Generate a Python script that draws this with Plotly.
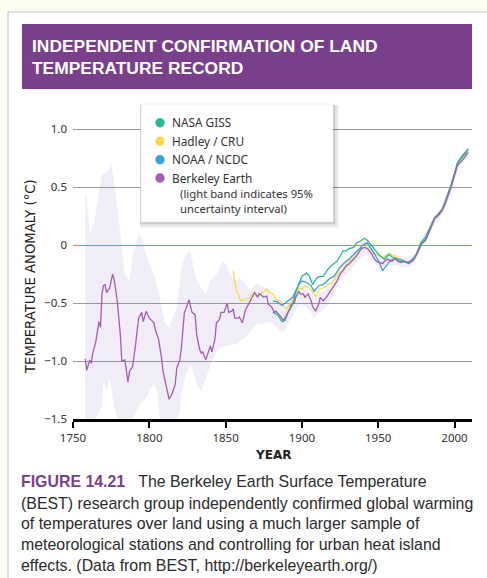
import plotly.graph_objects as go

# ---------------- data ----------------
berkeley_years = [1758, 1759, 1761, 1762, 1763, 1765, 1767, 1768, 1769, 1770, 1771, 1772, 1774, 1776, 1777,
                  1779, 1781, 1782, 1784, 1785, 1786, 1787, 1789, 1791, 1792, 1793, 1795, 1796, 1798, 1800,
                  1803, 1804, 1806, 1808, 1809, 1811, 1813, 1815, 1817, 1818, 1820, 1821, 1823, 1824, 1826,
                  1828, 1830, 1831, 1833, 1834, 1835, 1837, 1839, 1840, 1841, 1843, 1844, 1846, 1847, 1849,
                  1851, 1852, 1854, 1855, 1856, 1858, 1859, 1861, 1863, 1865, 1867, 1869, 1871, 1872, 1875,
                  1877, 1878, 1880, 1882, 1883, 1885, 1887, 1888, 1890, 1892, 1893, 1895, 1896, 1898, 1899,
                  1901, 1902, 1904, 1906, 1907, 1909, 1911, 1912, 1914, 1916, 1918, 1920, 1923, 1925, 1927,
                  1929, 1931, 1934, 1936, 1938, 1939, 1941, 1943, 1946, 1947, 1949, 1951, 1953, 1954, 1956,
                  1959, 1961, 1963, 1965, 1967, 1970, 1972, 1974, 1976, 1978, 1981, 1983, 1985, 1987, 1989,
                  1992, 1994, 1996, 1998, 2000, 2002, 2005, 2007, 2008, 2009]
berkeley = [-0.98, -1.08, -0.99, -1.02, -0.93, -0.83, -0.66, -0.71, -0.42, -0.35, -0.34, -0.41, -0.37, -0.25, -0.30,
            -0.48, -0.77, -1.00, -0.99, -1.07, -1.18, -1.09, -1.05, -0.86, -0.71, -0.63, -0.58, -0.66, -0.57, -0.63,
            -0.67, -0.73, -0.81, -0.97, -1.09, -1.20, -1.33, -1.28, -1.20, -1.06, -0.99, -0.89, -0.58, -0.55, -0.47,
            -0.58, -0.60, -0.77, -0.90, -0.93, -0.92, -0.99, -0.92, -0.87, -0.92, -0.81, -0.67, -0.64, -0.58, -0.58,
            -0.50, -0.58, -0.57, -0.55, -0.63, -0.63, -0.62, -0.67, -0.56, -0.51, -0.47, -0.41, -0.45, -0.42, -0.45,
            -0.44, -0.51, -0.53, -0.58, -0.57, -0.60, -0.63, -0.65, -0.60, -0.55, -0.51, -0.50, -0.45, -0.40, -0.42,
            -0.42, -0.45, -0.42, -0.48, -0.53, -0.57, -0.51, -0.45, -0.48, -0.45, -0.41, -0.38, -0.31, -0.25, -0.22,
            -0.18, -0.16, -0.12, -0.09, -0.05, -0.03, -0.02, -0.03, -0.08, -0.11, -0.14, -0.15, -0.16, -0.14, -0.12,
            -0.14, -0.11, -0.14, -0.15, -0.14, -0.15, -0.13, -0.11, -0.05, 0.01, 0.04, 0.10, 0.17, 0.23, 0.25,
            0.30, 0.36, 0.43, 0.51, 0.60, 0.69, 0.73, 0.77, 0.79, 0.80]

band_years = [1758, 1759, 1761, 1764, 1767, 1769, 1770, 1772, 1774, 1775, 1777, 1779, 1781, 1784, 1787,
              1789, 1791, 1793, 1795, 1798, 1800, 1803, 1805, 1807, 1810, 1813, 1816, 1818, 1820, 1821,
              1824, 1827, 1829, 1831, 1834, 1837, 1840, 1842, 1844, 1846, 1848, 1851, 1853, 1857, 1859,
              1863, 1866, 1870, 1874, 1877, 1881, 1884, 1886, 1888, 1890, 1893, 1896, 1899, 1902, 1905,
              1908, 1911, 1914, 1917, 1920, 1924, 1928, 1932, 1936, 1940, 1943, 1946, 1950, 1954, 1958,
              1962, 1966, 1970, 1974, 1978, 1982, 1986, 1990, 1994, 1998, 2002, 2006, 2009]
band_upper = [0.47, 0.40, 0.10, 0.21, 0.45, 0.62, 0.62, 0.62, 0.65, 0.72, 0.55, 0.30, 0.10, -0.25, -0.31,
              -0.10, 0.01, 0.10, 0.07, -0.08, -0.16, -0.25, -0.34, -0.45, -0.66, -0.71, -0.60, -0.54, -0.30, -0.19,
              -0.08, -0.05, -0.19, -0.30, -0.37, -0.42, -0.31, -0.28, -0.25, -0.20, -0.14, -0.18, -0.25, -0.31, -0.28,
              -0.33, -0.40, -0.33, -0.36, -0.37, -0.45, -0.48, -0.52, -0.55, -0.52, -0.44, -0.38, -0.35, -0.38, -0.40,
              -0.47, -0.42, -0.40, -0.37, -0.31, -0.20, -0.14, -0.09, -0.04, 0.03, 0.02, -0.03, -0.10, -0.09, -0.09,
              -0.08, -0.10, -0.11, -0.07, 0.05, 0.13, 0.24, 0.30, 0.40, 0.55, 0.73, 0.80, 0.84]
band_lower = [-1.50, -1.50, -1.50, -1.50, -1.45, -1.38, -1.18, -1.26, -1.15, -1.20, -1.40, -1.50, -1.50, -1.50, -1.50,
              -1.50, -1.45, -1.40, -1.35, -1.32, -1.25, -1.20, -1.26, -1.50, -1.50, -1.50, -1.50, -1.50, -1.45, -1.29,
              -1.12, -1.03, -1.10, -1.20, -1.26, -1.15, -1.05, -0.97, -0.93, -0.89, -0.88, -0.87, -0.86, -0.85, -0.83,
              -0.80, -0.75, -0.68, -0.68, -0.66, -0.68, -0.72, -0.74, -0.75, -0.70, -0.62, -0.55, -0.50, -0.52, -0.56,
              -0.63, -0.58, -0.56, -0.52, -0.45, -0.33, -0.26, -0.21, -0.15, -0.09, -0.09, -0.14, -0.20, -0.19, -0.18,
              -0.17, -0.19, -0.19, -0.15, -0.03, 0.05, 0.16, 0.22, 0.32, 0.47, 0.65, 0.72, 0.76]

hadley_years = [1855, 1857, 1858, 1860, 1863, 1866, 1869, 1871, 1874, 1877, 1879, 1881, 1883, 1886, 1888,
                1890, 1892, 1894, 1898, 1900, 1902, 1905, 1909, 1911, 1914, 1917, 1920, 1924, 1927, 1930,
                1934, 1937, 1939, 1941, 1943, 1946, 1949, 1953, 1957, 1960, 1963, 1966, 1969, 1972, 1975,
                1978, 1981, 1983, 1985, 1987, 1989, 1992, 1994, 1996, 1998, 2000, 2002, 2005, 2007, 2009]
hadley = [-0.22, -0.39, -0.42, -0.48, -0.47, -0.45, -0.40, -0.44, -0.41, -0.38, -0.41, -0.42, -0.47, -0.48, -0.53,
          -0.55, -0.51, -0.48, -0.37, -0.38, -0.35, -0.37, -0.44, -0.38, -0.37, -0.34, -0.32, -0.24, -0.21, -0.15,
          -0.11, -0.06, -0.01, 0.01, 0.00, -0.05, -0.08, -0.11, -0.07, -0.09, -0.11, -0.14, -0.15, -0.13, -0.09,
          0.02, 0.06, 0.12, 0.18, 0.24, 0.27, 0.31, 0.37, 0.45, 0.53, 0.62, 0.70, 0.75, 0.78, 0.82]

noaa_years = [1881, 1884, 1887, 1889, 1891, 1894, 1898, 1900, 1903, 1906, 1908, 1911, 1914, 1918, 1921,
              1925, 1928, 1931, 1934, 1937, 1940, 1943, 1946, 1948, 1950, 1953, 1956, 1958, 1961, 1964,
              1967, 1970, 1973, 1976, 1978, 1981, 1983, 1985, 1987, 1989, 1992, 1994, 1996, 1998, 2000,
              2002, 2005, 2007, 2009]
noaa = [-0.48, -0.49, -0.52, -0.50, -0.48, -0.45, -0.34, -0.31, -0.32, -0.35, -0.40, -0.35, -0.34, -0.29, -0.27,
        -0.19, -0.15, -0.12, -0.08, -0.04, 0.00, 0.02, -0.04, -0.09, -0.13, -0.22, -0.16, -0.13, -0.12, -0.14,
        -0.14, -0.16, -0.13, -0.06, 0.00, 0.05, 0.11, 0.17, 0.23, 0.26, 0.31, 0.37, 0.44, 0.52, 0.61,
        0.71, 0.77, 0.80, 0.83]

nasa_years = [1881, 1884, 1887, 1889, 1891, 1894, 1896, 1899, 1900, 1903, 1905, 1907, 1910, 1912, 1914,
              1917, 1919, 1923, 1927, 1929, 1931, 1934, 1936, 1939, 1941, 1943, 1946, 1948, 1951, 1954,
              1957, 1960, 1963, 1966, 1969, 1972, 1975, 1978, 1981, 1983, 1985, 1987, 1989, 1992, 1994,
              1996, 1998, 2000, 2002, 2005, 2007, 2009]
nasa = [-0.58, -0.60, -0.66, -0.65, -0.58, -0.51, -0.40, -0.29, -0.27, -0.24, -0.27, -0.34, -0.28, -0.27, -0.27,
        -0.21, -0.18, -0.14, -0.05, -0.05, -0.03, -0.02, 0.02, 0.04, 0.06, 0.04, -0.01, -0.05, -0.09, -0.12,
        -0.08, -0.11, -0.12, -0.13, -0.15, -0.13, -0.08, 0.02, 0.07, 0.12, 0.18, 0.24, 0.26, 0.31, 0.38,
        0.45, 0.53, 0.62, 0.71, 0.76, 0.79, 0.83]

y_tickvals = [-1.5, -1.0, -0.5, 0, 0.5, 1.0]
y_ticktext = ["\u22121.5", "\u22121.0", "\u22120.5", "0", "0.5", "1.0"]
x_tickvals = [1750, 1800, 1850, 1900, 1950, 2000]

series_names = ["NASA GISS", "Hadley / CRU", "NOAA / NCDC", "Berkeley Earth"]
series_colors = ["#2fb896", "#fcd94c", "#39a0de", "#a35eac"]

# ---------------- geometry ----------------
W, H = 487, 578
L, R, T, B = 73, 15, 123, 159
PW = W - L - R
PH = H - T - B


def px(x):
    return (x - L) / PW


def py(y):
    return (H - B - y) / PH


fig = go.Figure()

# uncertainty band
fig.add_trace(go.Scatter(x=band_years, y=band_lower, mode="lines", line=dict(width=0),
                         hoverinfo="skip", showlegend=False))
fig.add_trace(go.Scatter(x=band_years, y=band_upper, mode="lines", line=dict(width=0),
                         fill="tonexty", fillcolor="rgba(138,105,180,0.12)",
                         hoverinfo="skip", showlegend=False))

fig.add_trace(go.Scatter(x=hadley_years, y=hadley, mode="lines",
                         line=dict(color=series_colors[1], width=1.3), name=series_names[1], showlegend=False))
fig.add_trace(go.Scatter(x=noaa_years, y=noaa, mode="lines",
                         line=dict(color=series_colors[2], width=1.3), name=series_names[2], showlegend=False))
fig.add_trace(go.Scatter(x=nasa_years, y=nasa, mode="lines",
                         line=dict(color=series_colors[0], width=1.3), name=series_names[0], showlegend=False))
fig.add_trace(go.Scatter(x=berkeley_years, y=berkeley, mode="lines",
                         line=dict(color=series_colors[3], width=1.3), name=series_names[3], showlegend=False))

shapes = []
# white panel
shapes.append(dict(type="rect", xref="paper", yref="paper", x0=px(8), x1=px(500), y0=py(12), y1=py(600),
                   fillcolor="white", line=dict(color="#c4c4c4", width=1), layer="below"))
# title band
shapes.append(dict(type="rect", xref="paper", yref="paper", x0=px(22), x1=px(472), y0=py(24), y1=py(89),
                   fillcolor="#7a3f8b", line=dict(width=0), layer="below"))
# legend shadow
for off, a in [(6, 0.05), (4, 0.07), (2, 0.09)]:
    shapes.append(dict(type="rect", xref="paper", yref="paper",
                       x0=px(141 - 1), x1=px(333 + off), y0=py(104 + 1), y1=py(222 + off),
                       fillcolor="rgba(0,0,0,%s)" % a, line=dict(width=0), layer="above"))
# legend box
shapes.append(dict(type="rect", xref="paper", yref="paper", x0=px(141), x1=px(333), y0=py(104), y1=py(222),
                   fillcolor="white", line=dict(color="#e4e4e4", width=0.5), layer="above"))
leg_y = [122.7, 141.3, 159.8, 178.0]
for yy, c in zip(leg_y, series_colors):
    shapes.append(dict(type="circle", xref="paper", yref="paper",
                       x0=px(155.3), x1=px(164.7), y0=py(yy - 4.7), y1=py(yy + 4.7),
                       fillcolor=c, line=dict(width=0), layer="above"))

annotations = []
legend_font = dict(family="Noto Sans", size=11.8, color="#333333")
for yy, name in zip(leg_y, series_names):
    annotations.append(dict(text=name, xref="paper", yref="paper", x=px(170), y=py(yy - 0.5),
                            xanchor="left", yanchor="middle", showarrow=False, font=legend_font))
annotations.append(dict(text="(light band indicates 95%<br>uncertainty interval)", xref="paper", yref="paper",
                        x=px(178), y=py(201), xanchor="left", yanchor="middle", align="left",
                        showarrow=False, font=dict(family="Noto Sans", size=11.3, color="#333333")))

# title
title_font = dict(family="Liberation Sans", size=17.4, color="white")
annotations.append(dict(text="<b>INDEPENDENT CONFIRMATION OF LAND</b>", xref="paper", yref="paper",
                        x=px(30), y=py(46.5), xanchor="left", yanchor="middle", showarrow=False, font=title_font))
annotations.append(dict(text="<b>TEMPERATURE RECORD</b>", xref="paper", yref="paper",
                        x=px(30), y=py(68.5), xanchor="left", yanchor="middle", showarrow=False, font=title_font))

# axis titles
annotations.append(dict(text="TEMPERATURE ANOMALY (\u00b0C)", xref="paper", yref="paper",
                        x=px(30), y=py(277), xanchor="center", yanchor="middle", textangle=-90,
                        showarrow=False, font=dict(family="DejaVu Sans", size=13.2, color="#1e1e1e")))
annotations.append(dict(text="<b>YEAR</b>", xref="paper", yref="paper",
                        x=px(273), y=py(455), xanchor="center", yanchor="middle",
                        showarrow=False, font=dict(family="DejaVu Sans", size=12, color="#222222")))

# caption
cap_font = dict(family="Liberation Sans", size=15.9, color="#2b2b2b")
cap_lines = [
    "<b><span style='color:#7b3f8c'>FIGURE 14.21</span></b>\u00a0\u00a0 The Berkeley Earth Surface Temperature",
    "(BEST) research group independently confirmed global warming",
    "of temperatures over land using a much larger sample of",
    "meteorological stations and controlling for urban heat island",
    "effects. (Data from BEST, http://berkeleyearth.org/)",
]
cap_y = [482, 503, 523.5, 544, 565]
for t, yy in zip(cap_lines, cap_y):
    annotations.append(dict(text=t, xref="paper", yref="paper", x=px(19), y=py(yy),
                            xanchor="left", yanchor="middle", showarrow=False, font=cap_font))

fig.update_layout(
    width=W, height=H,
    margin=dict(l=L, r=R, t=T, b=B, pad=0),
    paper_bgcolor="#fdfdf2",
    plot_bgcolor="white",
    showlegend=False,
    shapes=shapes,
    annotations=annotations,
    xaxis=dict(range=[1750, 1750 + PW / 1.526], tickvals=x_tickvals, showgrid=False, zeroline=False,
               showline=True, linecolor="black", linewidth=3, ticks="outside", ticklen=6, tickwidth=1.5,
               tickcolor="black", tickfont=dict(family="Noto Sans", size=11.5, color="#333333")),
    yaxis=dict(range=[-1.5, -1.5 + PH / 115.9], tickvals=y_tickvals, ticktext=y_ticktext,
               showgrid=True, gridcolor="#9a9a9a", gridwidth=1,
               zeroline=True, zerolinecolor="#f27a3c", zerolinewidth=1.3,
               showline=False, ticks="", ticklabelstandoff=5,
               tickfont=dict(family="Noto Sans", size=11.5, color="#333333")),
)

fig.write_html("out.html", config={"displayModeBar": False},
               post_script="document.body.style.margin='0';document.body.style.padding='0';")
